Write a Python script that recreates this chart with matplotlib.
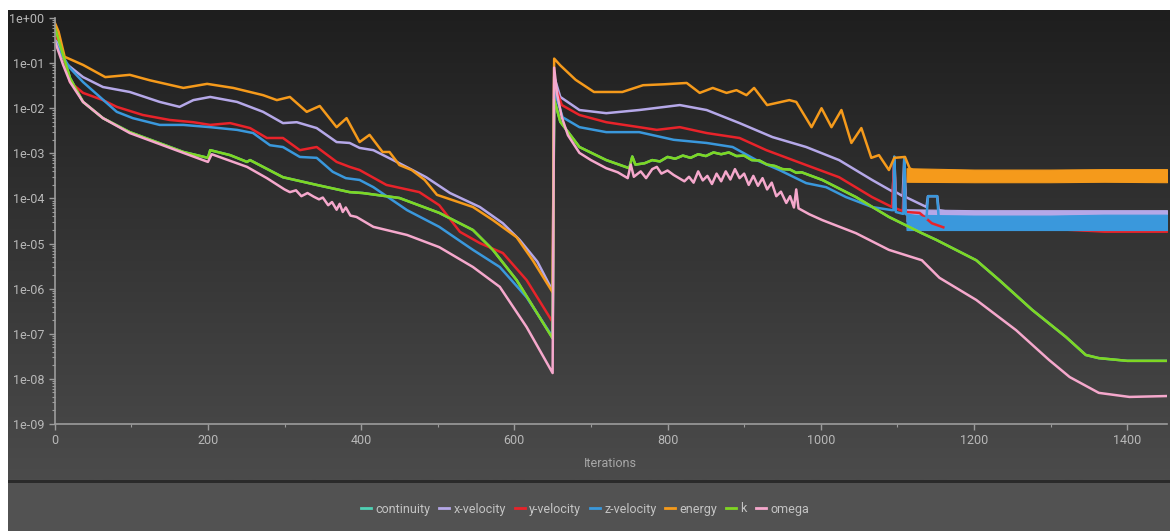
import numpy as np
import matplotlib
matplotlib.use('Agg')
import matplotlib.pyplot as plt
from matplotlib.colors import LinearSegmentedColormap
from matplotlib.patches import Rectangle
from matplotlib.lines import Line2D
from matplotlib.ticker import FixedLocator, NullFormatter

# residual histories, stored as log10(residual)
energy_it = [0, 5, 13, 37, 66, 98, 124, 168, 199, 233, 272, 290, 307, 329, 346, 368, 381, 398, 411,
             428, 437, 450, 466, 483, 499, 520, 546, 572, 603, 624, 650,
             652, 660, 680, 704, 741, 768, 795, 825, 842, 859, 877, 890, 903, 913, 930, 959, 968, 988,
             1001, 1014, 1027, 1040, 1053, 1066, 1076, 1089, 1096, 1110, 1116, 1125]
energy_log = [-0.1, -0.3, -0.86, -1.04, -1.31, -1.26, -1.38, -1.55, -1.46, -1.55, -1.71, -1.82, -1.75,
              -2.08, -1.95, -2.42, -2.22, -2.75, -2.59, -2.97, -2.97, -3.26, -3.37, -3.59, -3.92, -4.04,
              -4.19, -4.48, -4.86, -5.37, -6.08,
              -0.9, -1.05, -1.37, -1.64, -1.64, -1.49, -1.47, -1.44, -1.66, -1.55, -1.66, -1.60, -1.71,
              -1.55, -1.93, -1.82, -1.86, -2.42, -2.00, -2.42, -2.04, -2.77, -2.44, -3.10, -3.04, -3.37,
              -3.10, -3.08, -3.33, -3.42]

xvel_it = [0, 14, 37, 63, 98, 137, 163, 181, 203, 238, 272, 298, 316, 342, 368, 385, 398, 416, 450,
           485, 516, 555, 585, 607, 630, 650,
           652, 660, 685, 720, 763, 816, 851, 894, 937, 981, 1024, 1067, 1094, 1096, 1098, 1107, 1109,
           1111, 1138, 1140, 1152, 1154, 1168]
xvel_log = [-0.4, -1.00, -1.31, -1.53, -1.64, -1.86, -1.97, -1.82, -1.75, -1.86, -2.08, -2.33, -2.31,
            -2.44, -2.75, -2.77, -2.88, -2.93, -3.22, -3.53, -3.88, -4.19, -4.55, -4.92, -5.40, -6.05,
            -1.3, -1.75, -2.04, -2.11, -2.04, -1.93, -2.04, -2.33, -2.64, -2.86, -3.15, -3.59, -3.85,
            -3.10, -3.86, -3.95, -3.12, -3.97, -4.19, -3.95, -3.95, -4.26, -4.30]

yvel_it = [0, 7, 20, 37, 63, 81, 115, 150, 181, 203, 229, 255, 277, 298, 320, 342, 368, 385, 398,
           433, 476, 502, 529, 555, 585, 616, 650,
           652, 662, 685, 720, 763, 786, 816, 851, 894, 929, 981, 1024, 1067, 1093, 1096, 1098, 1107,
           1109, 1111, 1129, 1145, 1160]
yvel_log = [-0.4, -0.53, -1.42, -1.66, -1.82, -1.97, -2.15, -2.26, -2.31, -2.37, -2.33, -2.44, -2.66,
            -2.66, -2.93, -2.86, -3.19, -3.30, -3.37, -3.70, -3.86, -4.15, -4.74, -4.99, -5.21, -5.81,
            -6.74,
            -1.45, -1.93, -2.15, -2.31, -2.42, -2.48, -2.42, -2.55, -2.66, -2.93, -3.26, -3.53, -3.97,
            -4.19, -3.15, -4.22, -4.28, -3.58, -4.30, -4.32, -4.55, -4.64]

zvel_it = [0, 7, 20, 37, 59, 81, 102, 137, 168, 203, 238, 259, 281, 298, 320, 342, 363, 380, 398,
           416, 460, 502, 546, 581, 616, 650,
           652, 663, 685, 720, 763, 808, 851, 885, 916, 946, 981, 1007, 1033, 1067, 1093, 1095, 1096,
           1098, 1107, 1108, 1109, 1111, 1138, 1140, 1152, 1154]
zvel_log = [-0.5, -0.75, -1.11, -1.42, -1.75, -2.08, -2.22, -2.37, -2.37, -2.42, -2.48, -2.55, -2.82,
            -2.86, -3.08, -3.10, -3.41, -3.55, -3.59, -3.75, -4.26, -4.63, -5.14, -5.52, -6.19, -7.07,
            -1.6, -2.20, -2.42, -2.53, -2.53, -2.70, -2.77, -2.86, -3.15, -3.37, -3.66, -3.75, -3.97,
            -4.19, -4.26, -4.26, -3.07, -4.30, -4.34, -4.34, -3.12, -4.35, -4.45, -3.95, -3.95, -4.45]

k_it = [0, 11, 20, 37, 63, 98, 133, 168, 200, 203, 229, 251, 255, 298, 342, 385, 402, 450, 502, 546,
        572, 603, 650,
        652, 660, 685, 720, 750, 754, 758, 770, 780, 790, 800, 810, 820, 830, 840, 850, 860, 870, 880,
        890, 900, 910, 920, 930, 940, 950, 960, 968, 975, 1002, 1046, 1089, 1132, 1151, 1203, 1233,
        1276, 1320, 1346, 1363, 1400, 1452]
k_log = [-0.2, -0.82, -1.33, -1.86, -2.22, -2.53, -2.75, -2.97, -3.10, -2.93, -3.04, -3.19, -3.15,
         -3.53, -3.70, -3.86, -3.88, -3.99, -4.32, -4.70, -5.14, -5.81, -7.10,
         -1.8, -2.30, -2.86, -3.15, -3.33, -3.07, -3.25, -3.22, -3.15, -3.18, -3.08, -3.12, -3.05,
         -3.10, -3.02, -3.06, -2.98, -3.02, -2.98, -3.06, -3.05, -3.15, -3.16, -3.25, -3.28, -3.35,
         -3.36, -3.43, -3.42, -3.59, -3.97, -4.41, -4.77, -4.92, -5.37, -5.81, -6.47, -7.07, -7.47,
         -7.54, -7.60, -7.60]

# continuity is not visible in the picture: it lies under k
continuity_it = k_it
continuity_log = k_log

omega_it = [0, 11, 20, 37, 63, 98, 133, 168, 200, 205, 251, 277, 300, 307, 315, 322, 330, 338, 345,
            350, 357, 362, 368, 372, 376, 380, 386, 394, 416, 460, 502, 546, 581, 616, 650,
            652, 656, 662, 670, 685, 700, 720, 735, 748, 752, 756, 765, 772, 780, 786, 792, 800, 808,
            815, 822, 828, 834, 840, 846, 852, 858, 864, 870, 876, 882, 888, 894, 900, 906, 912, 918,
            924, 930, 936, 942, 948, 955, 960, 965, 968, 971, 985, 1002, 1046, 1089, 1132, 1155, 1203,
            1255, 1298, 1325, 1363, 1403, 1452]
omega_log = [-0.5, -1.04, -1.42, -1.86, -2.22, -2.55, -2.77, -2.99, -3.19, -3.02, -3.30, -3.55, -3.80,
             -3.86, -3.82, -3.95, -3.88, -3.96, -4.02, -3.98, -4.15, -4.08, -4.25, -4.12, -4.30, -4.20,
             -4.38, -4.41, -4.63, -4.81, -5.08, -5.52, -5.96, -6.85, -7.87,
             -1.1, -1.7, -2.2, -2.6, -2.99, -3.15, -3.33, -3.42, -3.55, -3.25, -3.52, -3.40, -3.55,
             -3.35, -3.30, -3.45, -3.38, -3.48, -3.55, -3.62, -3.52, -3.65, -3.40, -3.60, -3.50, -3.68,
             -3.45, -3.62, -3.40, -3.58, -3.35, -3.55, -3.45, -3.70, -3.50, -3.72, -3.55, -3.80, -3.65,
             -3.95, -3.85, -4.10, -3.95, -4.20, -3.80, -4.22, -4.35, -4.48, -4.77, -5.14, -5.37, -5.76,
             -6.25, -6.92, -7.58, -7.96, -8.31, -8.40, -8.38]

# oscillating tails, drawn as bands (log10 low / high)
band_it = [1112, 1200, 1300, 1370, 1452]
energy_band_lo = [-3.63, -3.64, -3.64, -3.63, -3.64]
energy_band_hi = [-3.33, -3.36, -3.36, -3.35, -3.35]
xvel_band_lo = [-4.50, -4.52, -4.52, -4.52, -4.52]
xvel_band_hi = [-4.24, -4.26, -4.26, -4.26, -4.26]
yvel_band_lo = [-4.66, -4.68, -4.68, -4.74, -4.74]
yvel_band_hi = [-4.60, -4.62, -4.62, -4.62, -4.62]
zvel_band_lo = [-4.70, -4.70, -4.70, -4.70, -4.70]
zvel_band_hi = [-4.36, -4.38, -4.38, -4.36, -4.36]

series_names = ['continuity', 'x-velocity', 'y-velocity', 'z-velocity', 'energy', 'k', 'omega']
series_colors = ['#4fd1b4', '#b5a8e8', '#e8232a', '#3a98dc', '#f59a1b', '#7fd622', '#f5a8cc']

ytick_vals = [1, 1e-1, 1e-2, 1e-3, 1e-4, 1e-5, 1e-6, 1e-7, 1e-8, 1e-9]
ytick_labels = ['1e+00', '1e-01', '1e-02', '1e-03', '1e-04', '1e-05', '1e-06', '1e-07', '1e-08', '1e-09']
xtick_vals = [0, 200, 400, 600, 800, 1000, 1200, 1400]

W, H = 1170, 531
plt.rcParams['font.family'] = ['Roboto', 'DejaVu Sans']

fig = plt.figure(figsize=(W / 100, H / 100), dpi=100)
fig.patch.set_facecolor('white')

# gradient backdrop (dark panel from y=10 to y=480 px)
bg = fig.add_axes([8 / W, 51 / H, 1 - 8 / W, 470 / H])
grad = LinearSegmentedColormap.from_list('bg', ['#1e1e1e', '#4b4b4b'])
bg.imshow(np.linspace(0, 1, 256).reshape(-1, 1), aspect='auto', cmap=grad,
          extent=[0, 1, 0, 1], origin='upper')
bg.set_axis_off()
bg.set_zorder(0)

# legend panel
fig.patches.append(Rectangle((8 / W, 0), 1 - 8 / W, 50 / H, transform=fig.transFigure,
                             facecolor='#525252', edgecolor='none', zorder=1))
fig.patches.append(Rectangle((8 / W, 48 / H), 1 - 8 / W, 3 / H, transform=fig.transFigure,
                             facecolor='#2a2a2a', edgecolor='none', zorder=1))

ax = fig.add_axes([54.7 / W, 1 - 424 / H, (1167 - 54.7) / W, 406 / H])
ax.set_zorder(2)
ax.patch.set_alpha(0)

data = [
    (continuity_it, continuity_log),
    (xvel_it, xvel_log),
    (yvel_it, yvel_log),
    (zvel_it, zvel_log),
    (energy_it, energy_log),
    (k_it, k_log),
    (omega_it, omega_log),
]
bands = {
    'x-velocity': (xvel_band_lo, xvel_band_hi),
    'y-velocity': (yvel_band_lo, yvel_band_hi),
    'z-velocity': (zvel_band_lo, zvel_band_hi),
    'energy': (energy_band_lo, energy_band_hi),
}

for name, color, (it, lg) in zip(series_names, series_colors, data):
    if name in bands:
        lo, hi = bands[name]
        ax.fill_between(band_it, 10 ** np.array(lo), 10 ** np.array(hi),
                        color=color, lw=0.8)
    ax.plot(it, 10 ** np.array(lg), color=color, lw=1.8, solid_joinstyle='round')

ax.set_yscale('log')
ax.set_ylim(1e-9, 1)
ax.set_xlim(0, 1452)

ax.yaxis.set_major_locator(FixedLocator(ytick_vals))
ax.set_yticklabels(ytick_labels)
ax.yaxis.set_minor_locator(FixedLocator(
    [m * 10.0 ** e for e in range(-9, 0) for m in range(2, 10)]))
ax.yaxis.set_minor_formatter(NullFormatter())
ax.set_xticks(xtick_vals)
ax.set_xticks(range(100, 1452, 200), minor=True)

for side in ['top', 'right']:
    ax.spines[side].set_visible(False)
for side in ['left', 'bottom']:
    ax.spines[side].set_color('#9c9c9c')
    ax.spines[side].set_linewidth(1.2)

ax.tick_params(which='major', colors='#9c9c9c', labelcolor='#b8b8b8', labelsize=9,
               length=4, width=1)
ax.tick_params(which='minor', colors='#9c9c9c', length=2, width=0.8)
ax.set_xlabel('Iterations', color='#a8a8a8', fontsize=9, labelpad=7)

handles = [Line2D([], [], color=c, lw=2) for c in series_colors]
leg = fig.legend(handles, series_names, loc='center', bbox_to_anchor=(0.5, 1 - 509 / H),
                 ncol=7, frameon=False, fontsize=9, handlelength=0.8, handletextpad=0.35,
                 columnspacing=0.7, labelcolor='#c4c4c4')
leg.set_zorder(3)

fig.savefig('out.png', dpi=100, facecolor=fig.get_facecolor())
